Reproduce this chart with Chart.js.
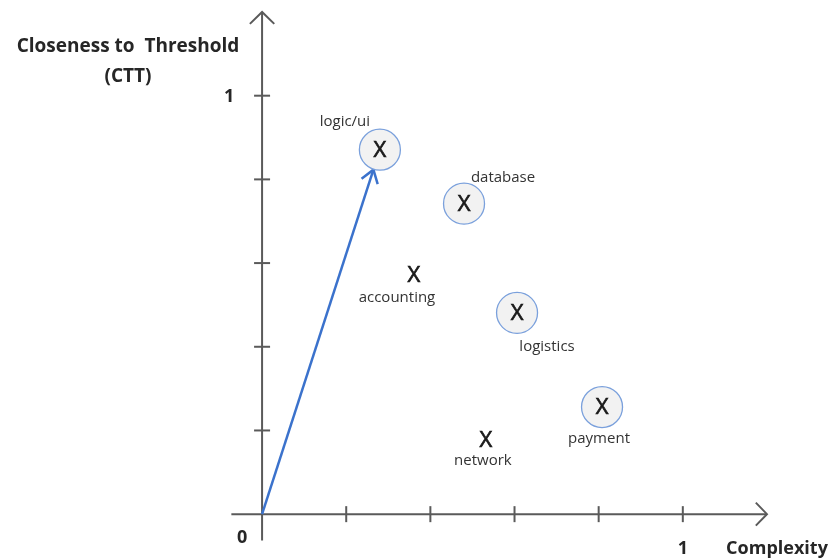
<!DOCTYPE html>
<html lang="en">
<head>
    <meta charset="UTF-8">
    <title>Complexity vs CTT</title>
    <script src="https://cdn.jsdelivr.net/npm/chart.js"></script>
    <style>
        html, body {
            margin: 0;
            padding: 0;
            background: #ffffff;
            overflow: hidden;
        }
        canvas {
            display: block;
        }
    </style>
</head>
<body>
    <canvas id="chart" width="835" height="560"></canvas>

    <script>
        // components
        const names = ['logic/ui', 'database', 'accounting', 'logistics', 'payment', 'network'];
        const complexity = [0.280, 0.480, 0.361, 0.606, 0.808, 0.532];
        const ctt = [0.871, 0.742, 0.572, 0.481, 0.256, 0.179];
        const circled = [true, true, false, true, true, false];

        const xTicks = [0.2, 0.4, 0.6, 0.8, 1];
        const yTicks = [0.2, 0.4, 0.6, 0.8, 1];

        // label offsets from the marker, in px
        const labelOffsets = [[-35, -28], [39, -26], [-17, 23], [30, 34], [-3, 32], [-3, 21]];

        const axisColor = '#5a5a5a';
        const arrowColor = '#3b72cc';
        const font = '"Open Sans", sans-serif';

        function chevron(ctx, tipX, tipY, angle, len, spread) {
            ctx.beginPath();
            ctx.moveTo(tipX - len * Math.cos(angle - spread), tipY - len * Math.sin(angle - spread));
            ctx.lineTo(tipX, tipY);
            ctx.lineTo(tipX - len * Math.cos(angle + spread), tipY - len * Math.sin(angle + spread));
            ctx.stroke();
        }

        const axesPlugin = {
            id: 'axes',
            beforeDatasetsDraw(chart) {
                const ctx = chart.ctx;
                const xs = chart.scales.x, ys = chart.scales.y;
                const x0 = xs.getPixelForValue(0), y0 = ys.getPixelForValue(0);
                ctx.save();
                ctx.strokeStyle = axisColor;
                ctx.lineWidth = 2;
                // y axis
                const yTop = ys.getPixelForValue(1.2);
                ctx.beginPath();
                ctx.moveTo(x0, ys.getPixelForValue(-0.063));
                ctx.lineTo(x0, yTop);
                ctx.stroke();
                chevron(ctx, x0, yTop, -Math.PI / 2, 17, 0.8);
                // x axis
                const xRight = xs.getPixelForValue(1.2);
                ctx.beginPath();
                ctx.moveTo(xs.getPixelForValue(-0.073), y0);
                ctx.lineTo(xRight, y0);
                ctx.stroke();
                chevron(ctx, xRight, y0, 0, 16, 0.8);
                // ticks
                xTicks.forEach(v => {
                    const px = xs.getPixelForValue(v);
                    ctx.beginPath();
                    ctx.moveTo(px, y0 - 8);
                    ctx.lineTo(px, y0 + 8);
                    ctx.stroke();
                });
                yTicks.forEach(v => {
                    const py = ys.getPixelForValue(v);
                    ctx.beginPath();
                    ctx.moveTo(x0 - 8, py);
                    ctx.lineTo(x0 + 8, py);
                    ctx.stroke();
                });

                // vector from origin to logic/ui
                const tx = xs.getPixelForValue(complexity[0]);
                const ty = ys.getPixelForValue(ctt[0]);
                const ang = Math.atan2(ty - y0, tx - x0);
                const ex = tx - 21 * Math.cos(ang), ey = ty - 21 * Math.sin(ang);
                ctx.strokeStyle = arrowColor;
                ctx.lineWidth = 2.5;
                ctx.beginPath();
                ctx.moveTo(x0, y0);
                ctx.lineTo(ex, ey);
                ctx.stroke();
                chevron(ctx, ex, ey, ang, 15, 0.6);
                ctx.restore();
            },
            afterDatasetsDraw(chart) {
                const ctx = chart.ctx;
                const xs = chart.scales.x, ys = chart.scales.y;
                const x0 = xs.getPixelForValue(0), y0 = ys.getPixelForValue(0);
                ctx.save();
                ctx.textAlign = 'center';
                ctx.textBaseline = 'middle';

                names.forEach((n, i) => {
                    const px = xs.getPixelForValue(complexity[i]);
                    const py = ys.getPixelForValue(ctt[i]);
                    // marker "X", thickened a bit with a thin stroke
                    ctx.fillStyle = '#1a1a1a';
                    ctx.strokeStyle = '#1a1a1a';
                    ctx.lineWidth = 0.7;
                    ctx.font = '22px ' + font;
                    ctx.fillText('X', px, py + 1);
                    ctx.strokeText('X', px, py + 1);
                    ctx.fillStyle = '#333333';
                    ctx.font = '15px ' + font;
                    ctx.fillText(n, px + labelOffsets[i][0], py + labelOffsets[i][1]);
                });

                // axis texts
                ctx.fillStyle = '#262626';
                ctx.font = 'bold 19px ' + font;
                ctx.fillText('Closeness to  Threshold', 128, 47);
                ctx.fillText('(CTT)', 128, 77);
                ctx.font = 'bold 18px ' + font;
                ctx.fillText('1', x0 - 33, ys.getPixelForValue(1) + 1);
                ctx.fillText('0', x0 - 20, y0 + 24);
                ctx.fillText('1', xs.getPixelForValue(1), y0 + 35);
                ctx.fillText('Complexity', 777, y0 + 35);
                ctx.restore();
            }
        };

        const points = complexity.map((c, i) => ({ x: c, y: ctt[i] }));

        new Chart(document.getElementById('chart'), {
            type: 'scatter',
            data: {
                datasets: [{
                    data: points,
                    pointRadius: circled.map(c => c ? 20.5 : 0),
                    pointHoverRadius: circled.map(c => c ? 20.5 : 0),
                    pointBackgroundColor: '#f2f2f2',
                    pointBorderColor: '#7aa0dc',
                    pointBorderWidth: 1.3
                }]
            },
            options: {
                responsive: false,
                animation: false,
                events: [],
                layout: {
                    autoPadding: false,
                    padding: { left: 220, right: 47, top: 12, bottom: 4 }
                },
                scales: {
                    x: { type: 'linear', min: -0.1, max: 1.25, display: false },
                    y: { type: 'linear', min: -0.1, max: 1.2, display: false }
                },
                plugins: {
                    legend: { display: false },
                    tooltip: { enabled: false }
                }
            },
            plugins: [axesPlugin]
        });
    </script>
</body>
</html>
